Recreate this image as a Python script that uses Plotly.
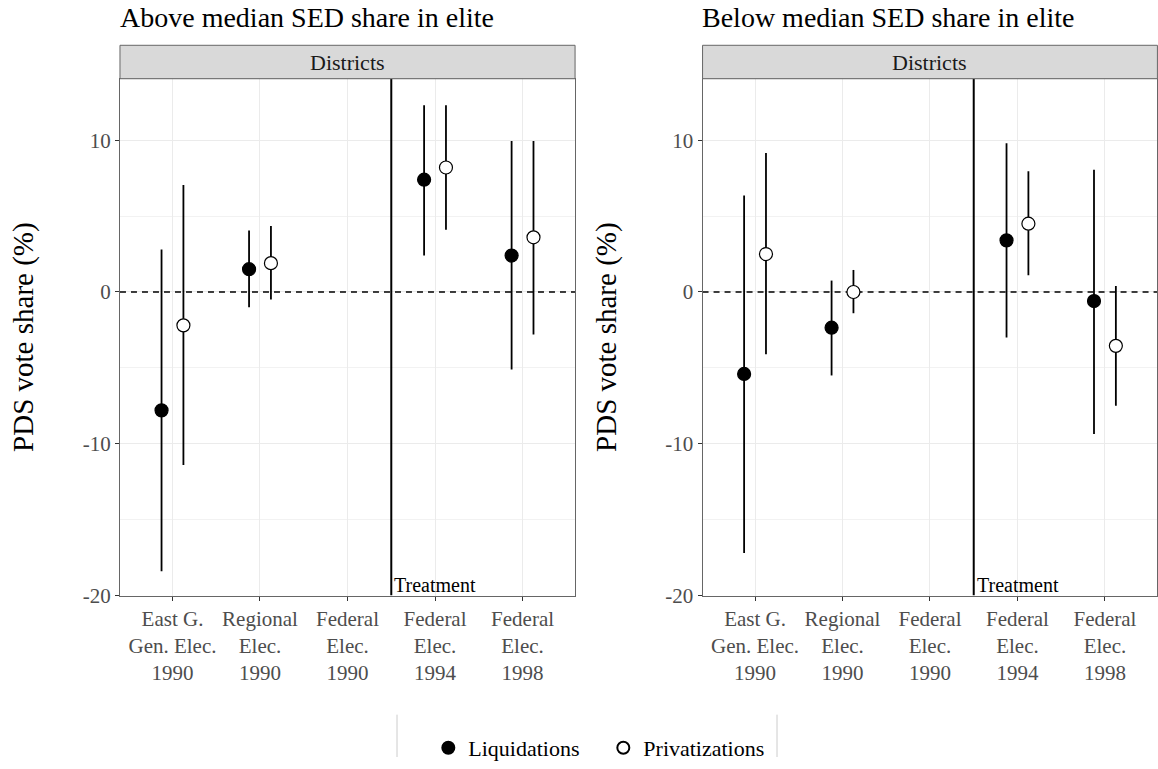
import plotly.graph_objects as go

# Election categories on the x axis
categories = ["East G.<br>Gen. Elec.<br>1990", "Regional<br>Elec.<br>1990",
              "Federal<br>Elec.<br>1990", "Federal<br>Elec.<br>1994",
              "Federal<br>Elec.<br>1998"]
cat_pos = [1, 2, 3, 4, 5]

# Above median SED share in elite (category positions with estimates)
above_liq_pos = [1, 2, 4, 5]
above_liq_est = [-7.8, 1.5, 7.4, 2.4]
above_liq_lo = [-18.4, -1.0, 2.4, -5.1]
above_liq_hi = [2.8, 4.05, 12.3, 9.95]

above_priv_pos = [1, 2, 4, 5]
above_priv_est = [-2.2, 1.9, 8.2, 3.6]
above_priv_lo = [-11.4, -0.5, 4.1, -2.8]
above_priv_hi = [7.05, 4.35, 12.3, 9.95]

# Below median SED share in elite
below_liq_pos = [1, 2, 4, 5]
below_liq_est = [-5.4, -2.35, 3.4, -0.6]
below_liq_lo = [-17.2, -5.5, -3.0, -9.35]
below_liq_hi = [6.35, 0.75, 9.8, 8.05]

below_priv_pos = [1, 2, 4, 5]
below_priv_est = [2.5, 0.0, 4.5, -3.55]
below_priv_lo = [-4.1, -1.4, 1.1, -7.5]
below_priv_hi = [9.15, 1.45, 7.95, 0.4]

y_ticks = [-20, -10, 0, 10]
y_ticklabels = ["-20", "-10", "0", "10"]

treatment_x = 3.5
dodge = 0.125

FONT = "Liberation Serif"
fig = go.Figure()


def add_series(pos, est, lo, hi, shift, filled, name, xa, ya, showlegend):
    xs = [p + shift for p in pos]
    # confidence intervals as vertical segments
    lx, ly = [], []
    for x, l, h in zip(xs, lo, hi):
        lx += [x, x, None]
        ly += [l, h, None]
    fig.add_trace(go.Scatter(x=lx, y=ly, mode="lines", xaxis=xa, yaxis=ya,
                             line=dict(color="black", width=1.8),
                             showlegend=False, hoverinfo="skip"))
    fig.add_trace(go.Scatter(
        x=xs, y=est, mode="markers", name=name, xaxis=xa, yaxis=ya,
        showlegend=showlegend,
        marker=dict(size=13, symbol="circle",
                    color="black" if filled else "white",
                    line=dict(color="black", width=1.2))))


panels = [
    ("x", "y", above_liq_pos, above_liq_est, above_liq_lo, above_liq_hi,
     above_priv_pos, above_priv_est, above_priv_lo, above_priv_hi, True),
    ("x2", "y2", below_liq_pos, below_liq_est, below_liq_lo, below_liq_hi,
     below_priv_pos, below_priv_est, below_priv_lo, below_priv_hi, False),
]

x_range = [0.4, 5.6]
y_range = [-20, 14.05]

for xa, ya, lp, le, ll, lh, pp, pe, pl, ph, leg in panels:
    # zero reference line
    fig.add_trace(go.Scatter(x=x_range, y=[0, 0], mode="lines", xaxis=xa, yaxis=ya,
                             line=dict(color="black", width=1.6, dash="6px,5px"),
                             showlegend=False, hoverinfo="skip"))
    # treatment line
    fig.add_trace(go.Scatter(x=[treatment_x, treatment_x], y=y_range, mode="lines",
                             xaxis=xa, yaxis=ya,
                             line=dict(color="black", width=2),
                             showlegend=False, hoverinfo="skip"))
    add_series(lp, le, ll, lh, -dodge, True, "Liquidations", xa, ya, leg)
    add_series(pp, pe, pl, ph, dodge, False, "Privatizations", xa, ya, leg)

y_dom = [0.2133, 0.8960]
x_doms = [[0.1036, 0.4966], [0.6067, 0.9995]]

axis_common = dict(
    showline=True, linecolor="#666666", linewidth=1, mirror=True,
    ticks="outside", ticklen=4, tickcolor="#333333", tickwidth=1,
    tickfont=dict(family=FONT, size=21, color="#4D4D4D"),
    gridcolor="#EBEBEB", gridwidth=1.4, zeroline=False,
)

layout = dict(
    width=1158, height=769,
    margin=dict(l=0, r=0, t=0, b=0),
    paper_bgcolor="white", plot_bgcolor="white",
    font=dict(family=FONT, color="black"),
    showlegend=True,
    legend=dict(orientation="h", x=0.521, xanchor="center", y=0.012, yanchor="middle",
                font=dict(family=FONT, size=22, color="black"),
                entrywidth=130, entrywidthmode="pixels",
                itemsizing="constant", bgcolor="rgba(0,0,0,0)"),
)

for i, (xd) in enumerate(x_doms):
    sfx = "" if i == 0 else str(i + 1)
    layout["xaxis" + sfx] = dict(
        domain=xd, range=x_range, anchor="y" + sfx,
        tickvals=cat_pos, ticktext=categories, **axis_common)
    layout["yaxis" + sfx] = dict(
        domain=y_dom, range=y_range, anchor="x" + sfx,
        tickvals=y_ticks, ticktext=y_ticklabels,
        minor=dict(tickvals=[-15, -5, 5], showgrid=True, gridcolor="#F2F2F2",
                   gridwidth=1, ticks=""),
        title=dict(text="PDS vote share (%)", standoff=40,
                   font=dict(family=FONT, size=29, color="black")),
        **axis_common)

fig.update_layout(**layout)

# facet strips, panel titles and treatment labels
titles = ["Above median SED share in elite", "Below median SED share in elite"]
strip_top = (769 - 46) / 769
for i, xd in enumerate(x_doms):
    sfx = "" if i == 0 else str(i + 1)
    fig.add_shape(type="rect", xref="paper", yref="paper",
                  x0=xd[0], x1=xd[1], y0=y_dom[1], y1=strip_top,
                  fillcolor="#D9D9D9", line=dict(color="#666666", width=1))
    fig.add_annotation(xref="paper", yref="paper", x=(xd[0] + xd[1]) / 2,
                       y=(y_dom[1] + strip_top) / 2, text="Districts", showarrow=False,
                       font=dict(family=FONT, size=22, color="#1A1A1A"),
                       xanchor="center", yanchor="middle")
    fig.add_annotation(xref="paper", yref="paper", x=xd[0] - 0.002, y=(769 - 18) / 769,
                       text=titles[i], showarrow=False,
                       font=dict(family=FONT, size=28, color="black"),
                       xanchor="left", yanchor="middle")
    fig.add_annotation(xref="x" + sfx, yref="y" + sfx, x=treatment_x, y=-20,
                       text="Treatment", showarrow=False, xanchor="left", yanchor="bottom",
                       xshift=1, yshift=-2,
                       font=dict(family=FONT, size=20, color="black"))

# legend box edges
for px in [397, 777]:
    fig.add_shape(type="line", xref="paper", yref="paper",
                  x0=px / 1158, x1=px / 1158, y0=0, y1=(769 - 726) / 769,
                  line=dict(color="#CCCCCC", width=1))

fig.write_html("out.html")
